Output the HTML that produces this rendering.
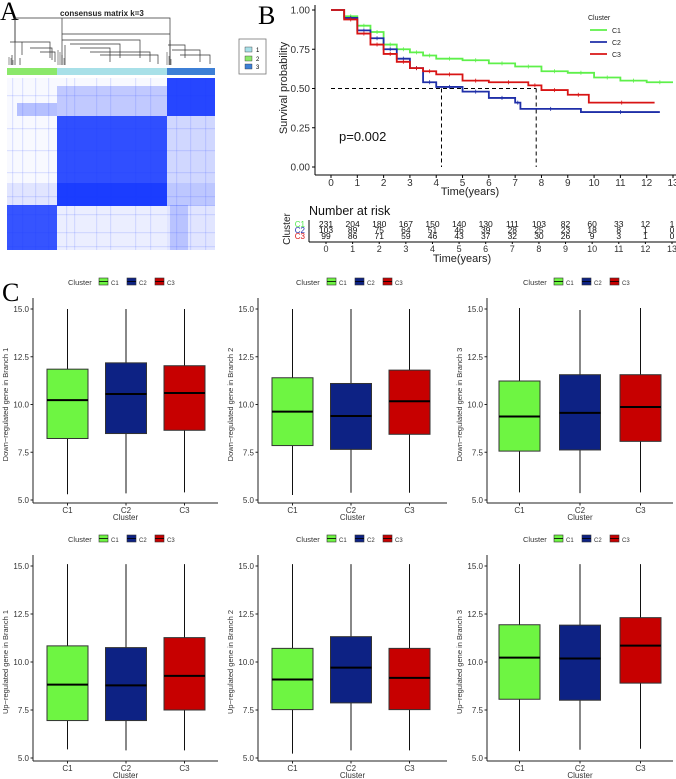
<!DOCTYPE html>
<html><head><meta charset="utf-8"><style>
body{margin:0;background:#fff;width:676px;height:779px;overflow:hidden}
svg{display:block;font-family:"Liberation Sans",sans-serif}
</style></head><body>
<svg id="fig" width="676" height="779" viewBox="0 0 676 779">
<g id="panelA">
<text x="0" y="20" font-family="Liberation Serif" font-size="26">A</text>
<text x="60" y="16" font-size="8" font-weight="bold" fill="#222">consensus matrix k=3</text>
<g stroke="#333" stroke-width="0.7" fill="none">
<path d="M15 65V18H170V65M62 34V18M62 34H170"/>
<path d="M15 18V42H50V58M10 42H22V55M30 48H52V60M40 52H55V62M12 55V65M20 58V65"/>
<path d="M62 34V40H140V58M62 40V65M70 44H120V58M80 48H110V62M90 52H150V62M100 55H158V64M65 45V65"/>
<path d="M170 40V65M168 45H185V58M172 50H200V62M180 55H210V64"/>
</g>
<g stroke="#222" stroke-width="0.5">
<path d="M9 65V57M11 65V58M13 65V60M58 65V50M60 65V52M62 65V55M64 65V58M167 65V52M169 65V56M171 65V59"/>
</g>
<rect x="7" y="68" width="50" height="7" fill="#8be86a"/>
<rect x="57" y="68" width="110" height="7" fill="#a8e0e8"/>
<rect x="167" y="68" width="48" height="7" fill="#3d7fd6"/>
<g id="heat"></g>
<g>
<rect x="239" y="39" width="27" height="35" fill="#fff" stroke="#777" stroke-width="0.8"/>
<rect x="245" y="47" width="7" height="5" fill="#a8e0e8" stroke="#333" stroke-width="0.4"/><text x="256" y="52" font-size="6">1</text>
<rect x="245" y="56" width="7" height="5" fill="#8be86a" stroke="#333" stroke-width="0.4"/><text x="256" y="61" font-size="6">2</text>
<rect x="245" y="64" width="7" height="5" fill="#3d7fd6" stroke="#333" stroke-width="0.4"/><text x="256" y="69" font-size="6">3</text>
</g>
</g>
<g id="panelB">
<text x="258" y="24" font-family="Liberation Serif" font-size="26">B</text>
</g>
<g id="panelC">
<text x="2" y="301" font-family="Liberation Serif" font-size="26">C</text>
</g>
</svg>
<script>
const NS="http://www.w3.org/2000/svg";
function el(tag,attrs,parent,txt){const e=document.createElementNS(NS,tag);for(const k in attrs)e.setAttribute(k,attrs[k]);if(txt!==undefined)e.textContent=txt;parent.appendChild(e);return e;}

/* ---------- Panel A heatmap blocks (consensus values) ---------- */
const heatBlocks=[[7,78,208,172,0.03],[167,78,48,38,0.95],[57,86,110,30,0.25],[17,103,40,13,0.3],
[57,116,110,90,0.9],[167,116,48,90,0.18],[7,183,208,23,0.1],[57,183,110,23,0.9],
[7,205,50,45,0.88],[57,205,110,45,0.06],[167,205,48,45,0.1],[170,205,18,45,0.2]];
const heat=document.getElementById('heat');
heatBlocks.forEach(b=>{const r=el('rect',{x:b[0],y:b[1],width:b[2],height:b[3],fill:'#1a3cff','fill-opacity':b[4]},heat);

});
const stripes=[12,22,35,48,66,74,96,110,135,150,176,190,205];
stripes.forEach(s=>{const r=el('rect',{x:s,y:78,width:1.2,height:172,fill:'#1a3cff','fill-opacity':0.12},heat);

});
const hstripes=[95,128,150,172,196,214,232,246];
hstripes.forEach(s=>{const r=el('rect',{x:7,y:s,width:208,height:1.2,fill:'#1a3cff','fill-opacity':0.12},heat);

});

/* ---------- Panel B Kaplan–Meier ---------- */
const kmNames=['C1','C2','C3'];
const kmColors=['#5ef04a','#1f2fa8','#d81414'];
const kmTimes=[[0,0.5,1,1.5,2,2.5,3,3.5,4,5,6,7,8,9,10,11,12,13],[0,0.5,1,1.5,2,2.5,3,3.5,4,5,6,7,7.2,9.5,12.5],[0,0.5,1,1.5,2,2.5,3,3.5,4,5,6,7.5,8,9,9.8,12.3]];
const kmSurv=[[1,0.96,0.9,0.86,0.78,0.75,0.73,0.71,0.69,0.68,0.66,0.64,0.61,0.6,0.57,0.55,0.54,0.54],[1,0.95,0.87,0.82,0.75,0.69,0.63,0.54,0.51,0.48,0.44,0.41,0.37,0.35,0.35],[1,0.94,0.85,0.78,0.72,0.67,0.63,0.61,0.59,0.55,0.54,0.52,0.49,0.46,0.41,0.41]];
const riskC1=[231,204,180,167,150,140,130,111,103,82,60,33,12,1];
const riskC2=[103,89,75,64,51,46,39,28,25,23,18,8,1,0];
const riskC3=[99,86,71,59,46,43,37,32,30,26,9,3,1,0];
const kmYTicks=['0.00','0.25','0.50','0.75','1.00'];
const medianTimes=[4.2,7.8];
const pB=document.getElementById('panelB');
const kx=t=>331+t*(673-331)/13, ky=s=>167-s*157;
el('line',{x1:315,y1:5,x2:315,y2:175,stroke:'#000','stroke-width':1},pB);
el('line',{x1:315,y1:175,x2:676,y2:175,stroke:'#000','stroke-width':1},pB);
kmYTicks.forEach((t,i)=>{const y=ky(i*0.25);
el('line',{x1:312,y1:y,x2:315,y2:y,stroke:'#000'},pB);
const tx=el('text',{x:310,y:y+3.5,'font-size':10,'text-anchor':'end',fill:'#333'},pB,t);

});
for(let i=0;i<=13;i++){const x=kx(i);el('line',{x1:x,y1:175,x2:x,y2:178,stroke:'#000'},pB);
const tx=el('text',{x:x,y:186,'font-size':10,'text-anchor':'middle',fill:'#333'},pB,String(i));

}
el('text',{x:470,y:195,'font-size':11,'text-anchor':'middle',fill:'#222'},pB,'Time(years)');
const yt=el('text',{x:0,y:0,'font-size':11,'text-anchor':'middle',fill:'#222',transform:'translate(287,88) rotate(-90)'},pB,'Survival probability');


el('line',{x1:kx(0),y1:ky(0.5),x2:kx(medianTimes[1]),y2:ky(0.5),stroke:'#000','stroke-dasharray':'4,3'},pB);
medianTimes.forEach(t=>{const l=el('line',{x1:kx(t),y1:ky(0.5),x2:kx(t),y2:ky(0),stroke:'#000','stroke-dasharray':'4,3'},pB);

});
kmTimes.forEach((ts,ci)=>{let d='M'+kx(ts[0])+' '+ky(kmSurv[ci][0]);
for(let i=1;i<ts.length;i++){d+=' H'+kx(ts[i])+' V'+ky(kmSurv[ci][i]);}
const p=el('path',{d:d,fill:'none',stroke:kmColors[ci],'stroke-width':1.8},pB);


for(let i=1;i<ts.length-1;i++){const tm=(ts[i]+ts[i+1])/2;const y=ky(kmSurv[ci][i]);
el('line',{x1:kx(tm),y1:y-2,x2:kx(tm),y2:y+2,stroke:kmColors[ci],'stroke-width':0.8},pB);}
});
el('text',{x:339,y:141,'font-size':13,fill:'#111'},pB,'p=0.002');
el('text',{x:588,y:20,'font-size':7,fill:'#222'},pB,'Cluster');
kmNames.forEach((n,i)=>{const y=30+i*12;
el('line',{x1:590,y1:y,x2:607,y2:y,stroke:kmColors[i],'stroke-width':1.8},pB);
const t=el('text',{x:612,y:y+3,'font-size':7,fill:'#222'},pB,n);

});
// risk table
el('text',{x:309,y:215,'font-size':12.5,fill:'#111'},pB,'Number at risk');
const rx=t=>326+t*(672-326)/13;
[riskC1,riskC2,riskC3].forEach((row,ri)=>{const y=227+ri*6;
const lb=el('text',{x:305,y:y,'font-size':8,'text-anchor':'end',fill:ri===0?'#4de84a':kmColors[ri]},pB,kmNames[ri]);


row.forEach((v,i)=>{const t=el('text',{x:rx(i),y:y,'font-size':8.5,'text-anchor':'middle',fill:'#111'},pB,String(v));

});});
el('line',{x1:309,y1:220,x2:309,y2:242,stroke:'#000'},pB);
el('line',{x1:309,y1:242,x2:676,y2:242,stroke:'#000'},pB);
el('text',{x:0,y:0,'font-size':10,'text-anchor':'middle',fill:'#222',transform:'translate(290,229) rotate(-90)'},pB,'Cluster');
for(let i=0;i<=13;i++){const x=rx(i);el('line',{x1:x,y1:242,x2:x,y2:244,stroke:'#000'},pB);
const t=el('text',{x:x,y:252,'font-size':9,'text-anchor':'middle',fill:'#333'},pB,String(i));

}
el('text',{x:462,y:262,'font-size':11,'text-anchor':'middle',fill:'#222'},pB,'Time(years)');

/* ---------- Panel C boxplots ---------- */
const boxCategories=['C1','C2','C3'];
const boxColors=['#6ef542','#0d2284','#c70000'];
const boxTitles=['Down\u2212regulated gene in Branch 1','Down\u2212regulated gene in Branch 2','Down\u2212regulated gene in Branch 3','Up\u2212regulated gene in Branch 1','Up\u2212regulated gene in Branch 2','Up\u2212regulated gene in Branch 3'];
const boxYTicks=['5.0','7.5','10.0','12.5','15.0'];
// [low, q1, median, q3, high] per category
const boxDown1=[[5.3,8.22,10.23,11.85,15.0],[5.35,8.48,10.55,12.18,15.0],[5.4,8.65,10.6,12.03,15.0]];
const boxDown2=[[5.26,7.85,9.63,11.4,15.0],[5.38,7.65,9.4,11.1,15.0],[5.38,8.44,10.17,11.8,15.0]];
const boxDown3=[[5.4,7.56,9.37,11.23,15.05],[5.36,7.62,9.56,11.56,14.95],[5.4,8.07,9.87,11.56,15.05]];
const boxUp1=[[5.45,6.95,8.82,10.84,15.1],[5.4,6.95,8.78,10.75,15.1],[5.4,7.5,9.28,11.27,15.1]];
const boxUp2=[[5.23,7.52,9.09,10.71,15.1],[5.4,7.87,9.71,11.32,15.1],[5.4,7.52,9.17,10.71,15.1]];
const boxUp3=[[5.36,8.06,10.23,11.94,15.1],[5.43,8.01,10.18,11.92,15.1],[5.48,8.9,10.85,12.31,15.1]];
const boxData=[boxDown1,boxDown2,boxDown3,boxUp1,boxUp2,boxUp3];
const pC=document.getElementById('panelC');
const axX=[33,258,487];
boxData.forEach((data,pi)=>{
 const col=pi%3,row=Math.floor(pi/3);
 const g=el('g',{},pC);
 
 
 const ax=axX[col];
 const yTop=row?566:309, yBot=row?758:500, axisY=row?761:503, axisTop=row?555:298;
 const sy=v=>yBot-(v-5)*(yBot-yTop)/10;
 const xEnd=col==2?673:(col==1?447:218);
 const first=col==2?32.5:34.5, step=col==2?60.5:58.5;
 const sx=i=>ax+first+i*step;
 el('line',{x1:ax,y1:axisTop,x2:ax,y2:axisY,stroke:'#222','stroke-width':1},g);
 el('line',{x1:ax,y1:axisY,x2:xEnd,y2:axisY,stroke:'#222','stroke-width':1},g);
 boxYTicks.forEach(t=>{const y=sy(parseFloat(t));
  el('line',{x1:ax-2.5,y1:y,x2:ax,y2:y,stroke:'#222'},g);
  const tx=el('text',{x:ax-4,y:y+3,'font-size':8,'text-anchor':'end',fill:'#333'},g,t);
  
  });
 const w=41;
 data.forEach((d,i)=>{const cx=sx(i);
  el('line',{x1:cx,y1:sy(d[0]),x2:cx,y2:sy(d[4]),stroke:'#111','stroke-width':1},g);
  const r=el('rect',{x:cx-w/2,y:sy(d[3]),width:w,height:sy(d[1])-sy(d[3]),fill:boxColors[i],stroke:'#333','stroke-width':1},g);
  
  
  el('line',{x1:cx-w/2,y1:sy(d[2]),x2:cx+w/2,y2:sy(d[2]),stroke:'#000','stroke-width':2},g);
  el('line',{x1:cx,y1:axisY,x2:cx,y2:axisY+2.5,stroke:'#222'},g);
  const tx=el('text',{x:cx,y:axisY+10,'font-size':8,'text-anchor':'middle',fill:'#333'},g,boxCategories[i]);
  
  });
 const xt=el('text',{x:(ax+xEnd)/2,y:axisY+17,'font-size':8,'text-anchor':'middle',fill:'#333'},g,'Cluster');
 
 
 const ytt=el('text',{x:0,y:0,'font-size':7.5,'text-anchor':'middle',fill:'#333',transform:'translate('+(ax-25)+','+((yTop+yBot)/2)+') rotate(-90)'},g,boxTitles[pi]);
 
 
 const lx=[68,296,523][col], ly=row?542:285;
 const lt=el('text',{x:lx,y:ly,'font-size':7.5,fill:'#333'},g,'Cluster');
 
 
 boxCategories.forEach((c,i)=>{const bx=lx+31+i*28;
  el('rect',{x:bx,y:ly-7,width:9,height:7,fill:boxColors[i],stroke:'#333','stroke-width':0.6},g);
  el('line',{x1:bx,y1:ly-3.5,x2:bx+9,y2:ly-3.5,stroke:'#000','stroke-width':0.8},g);
  const e=el('text',{x:bx+12,y:ly,'font-size':6,fill:'#333'},g,c);
  
  });
});
</script>
</body></html>
